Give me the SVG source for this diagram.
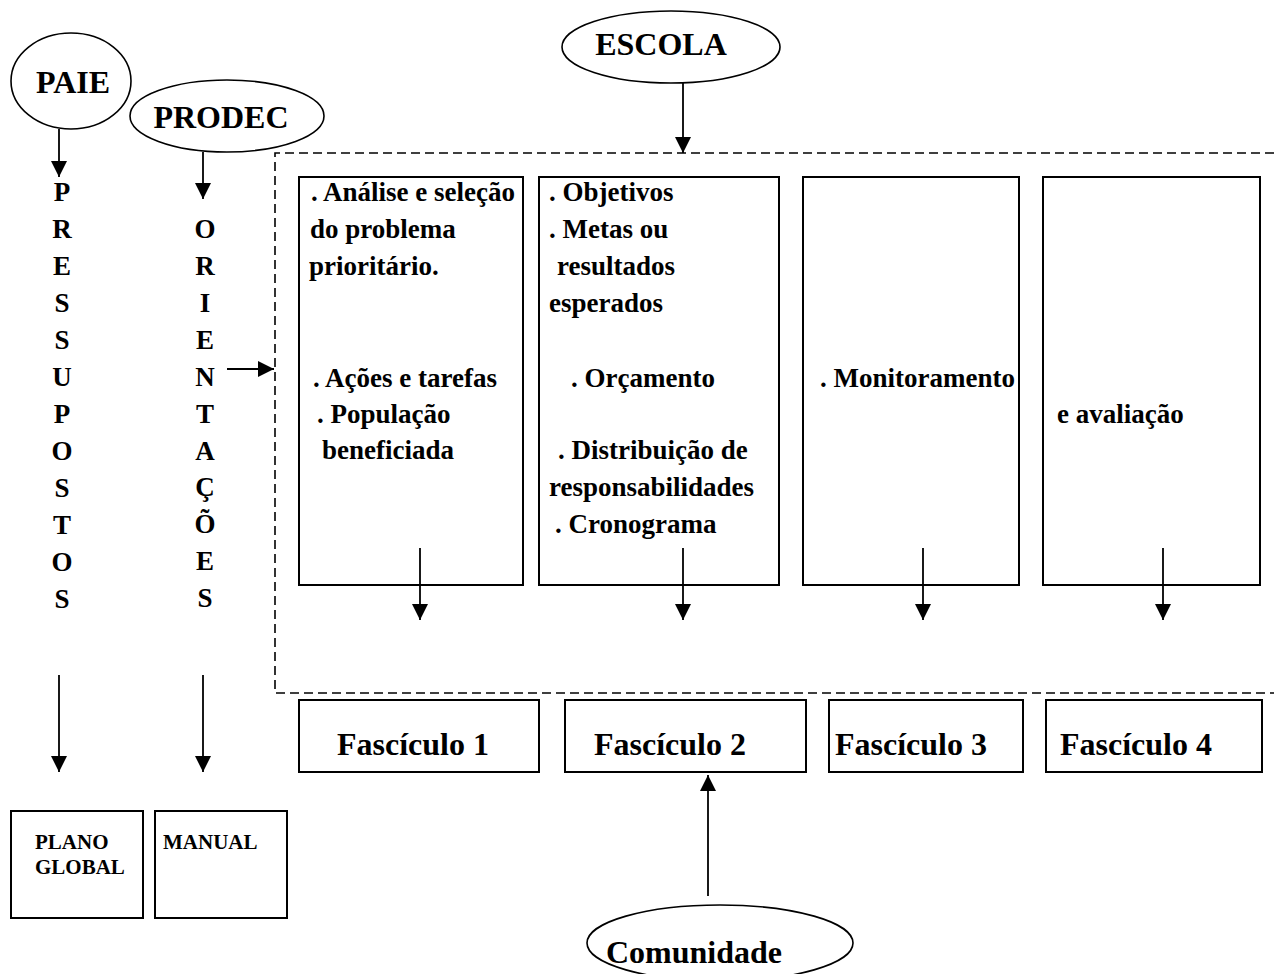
<svg xmlns="http://www.w3.org/2000/svg" width="1274" height="974" viewBox="0 0 1274 974">
  <style>
    text { font-family: "Liberation Serif", "Times New Roman", serif; font-weight: bold; fill: #000; }
    .shape { fill: #fff; stroke: #000; stroke-width: 2; }
    .oval { fill: #fff; stroke: #000; stroke-width: 1.6; }
    .big { font-size: 32px; text-anchor: middle; }
    .body { font-size: 27px; }
    .fasc { font-size: 32px; }
    .small { font-size: 21px; }
    .col { font-size: 27px; text-anchor: middle; }
    .link { fill: none; stroke: #000; stroke-width: 1.8; marker-end: url(#head); }
    .frame { fill: none; stroke: #000; stroke-width: 1.6; stroke-dasharray: 9 5; }
  </style>
  <defs>
    <marker id="head" viewBox="0 0 16 16" refX="16" refY="8" markerWidth="16" markerHeight="16" markerUnits="userSpaceOnUse" orient="auto">
      <path d="M0,0 L16,8 L0,16 Z" fill="#000"/>
    </marker>
  </defs>
  <rect width="1274" height="974" fill="#fff"/>

  <!-- dashed frame around the planning steps (open on the right) -->
  <g id="frame">
    <path class="frame" d="M1274,153 H275 V693 H1274"/>
  </g>

  <g id="paie">
    <ellipse class="oval" cx="71" cy="81" rx="60" ry="48"/>
    <text class="big" x="73" y="93">PAIE</text>
  </g>
  <g id="prodec">
    <ellipse class="oval" cx="227" cy="116" rx="97" ry="36"/>
    <text class="big" x="221" y="128">PRODEC</text>
  </g>
  <g id="escola">
    <ellipse class="oval" cx="671" cy="47" rx="109" ry="36"/>
    <text class="big" x="661" y="55">ESCOLA</text>
  </g>

  <g id="pressupostos">
    <text class="col" x="62" y="201">P</text>
    <text class="col" x="62" y="238">R</text>
    <text class="col" x="62" y="275">E</text>
    <text class="col" x="62" y="312">S</text>
    <text class="col" x="62" y="349">S</text>
    <text class="col" x="62" y="386">U</text>
    <text class="col" x="62" y="423">P</text>
    <text class="col" x="62" y="460">O</text>
    <text class="col" x="62" y="497">S</text>
    <text class="col" x="62" y="534">T</text>
    <text class="col" x="62" y="571">O</text>
    <text class="col" x="62" y="608">S</text>
  </g>
  <g id="orientacoes">
    <text class="col" x="205" y="238">O</text>
    <text class="col" x="205" y="275">R</text>
    <text class="col" x="205" y="312">I</text>
    <text class="col" x="205" y="349">E</text>
    <text class="col" x="205" y="386">N</text>
    <text class="col" x="205" y="423">T</text>
    <text class="col" x="205" y="460">A</text>
    <text class="col" x="205" y="496">Ç</text>
    <text class="col" x="205" y="533">Õ</text>
    <text class="col" x="205" y="570">E</text>
    <text class="col" x="205" y="607">S</text>
  </g>

  <g id="step1">
    <rect class="shape" x="299" y="177" width="224" height="408"/>
    <text class="body" x="311" y="201">. Análise e seleção</text>
    <text class="body" x="310" y="238">do problema</text>
    <text class="body" x="309" y="275">prioritário.</text>
    <text class="body" x="313" y="387">. Ações e tarefas</text>
    <text class="body" x="317" y="423">. População</text>
    <text class="body" x="322" y="459">beneficiada</text>
  </g>
  <g id="step2">
    <rect class="shape" x="539" y="177" width="240" height="408"/>
    <text class="body" x="549" y="201">. Objetivos</text>
    <text class="body" x="549" y="238">. Metas ou</text>
    <text class="body" x="557" y="275">resultados</text>
    <text class="body" x="549" y="312">esperados</text>
    <text class="body" x="571" y="387">. Orçamento</text>
    <text class="body" x="558" y="459">. Distribuição de</text>
    <text class="body" x="549" y="496">responsabilidades</text>
    <text class="body" x="555" y="533">. Cronograma</text>
  </g>
  <g id="step3">
    <rect class="shape" x="803" y="177" width="216" height="408"/>
    <text class="body" x="820" y="387">. Monitoramento</text>
  </g>
  <g id="step4">
    <rect class="shape" x="1043" y="177" width="217" height="408"/>
    <text class="body" x="1057" y="423">e avaliação</text>
  </g>

  <g id="fasciculo1">
    <rect class="shape" x="299" y="700" width="240" height="72"/>
    <text class="fasc" x="337" y="755">Fascículo 1</text>
  </g>
  <g id="fasciculo2">
    <rect class="shape" x="565" y="700" width="241" height="72"/>
    <text class="fasc" x="594" y="755">Fascículo 2</text>
  </g>
  <g id="fasciculo3">
    <rect class="shape" x="829" y="700" width="194" height="72"/>
    <text class="fasc" x="835" y="755">Fascículo 3</text>
  </g>
  <g id="fasciculo4">
    <rect class="shape" x="1046" y="700" width="216" height="72"/>
    <text class="fasc" x="1060" y="755">Fascículo 4</text>
  </g>

  <g id="plano-global">
    <rect class="shape" x="11" y="811" width="132" height="107"/>
    <text class="small" x="35" y="849">PLANO</text>
    <text class="small" x="35" y="874">GLOBAL</text>
  </g>
  <g id="manual">
    <rect class="shape" x="155" y="811" width="132" height="107"/>
    <text class="small" x="163" y="849">MANUAL</text>
  </g>

  <g id="comunidade">
    <ellipse class="oval" cx="720" cy="943" rx="133" ry="38"/>
    <text class="big" x="694" y="963">Comunidade</text>
  </g>

  <g id="connectors">
    <line class="link" x1="59" y1="129" x2="59" y2="177"/>
    <line class="link" x1="203" y1="152" x2="203" y2="199"/>
    <line class="link" x1="683" y1="83" x2="683" y2="153"/>
    <line class="link" x1="227" y1="369" x2="274" y2="369"/>
    <line class="link" x1="420" y1="548" x2="420" y2="620"/>
    <line class="link" x1="683" y1="548" x2="683" y2="620"/>
    <line class="link" x1="923" y1="548" x2="923" y2="620"/>
    <line class="link" x1="1163" y1="548" x2="1163" y2="620"/>
    <line class="link" x1="59" y1="675" x2="59" y2="772"/>
    <line class="link" x1="203" y1="675" x2="203" y2="772"/>
    <line class="link" x1="708" y1="896" x2="708" y2="775"/>
  </g>
</svg>
